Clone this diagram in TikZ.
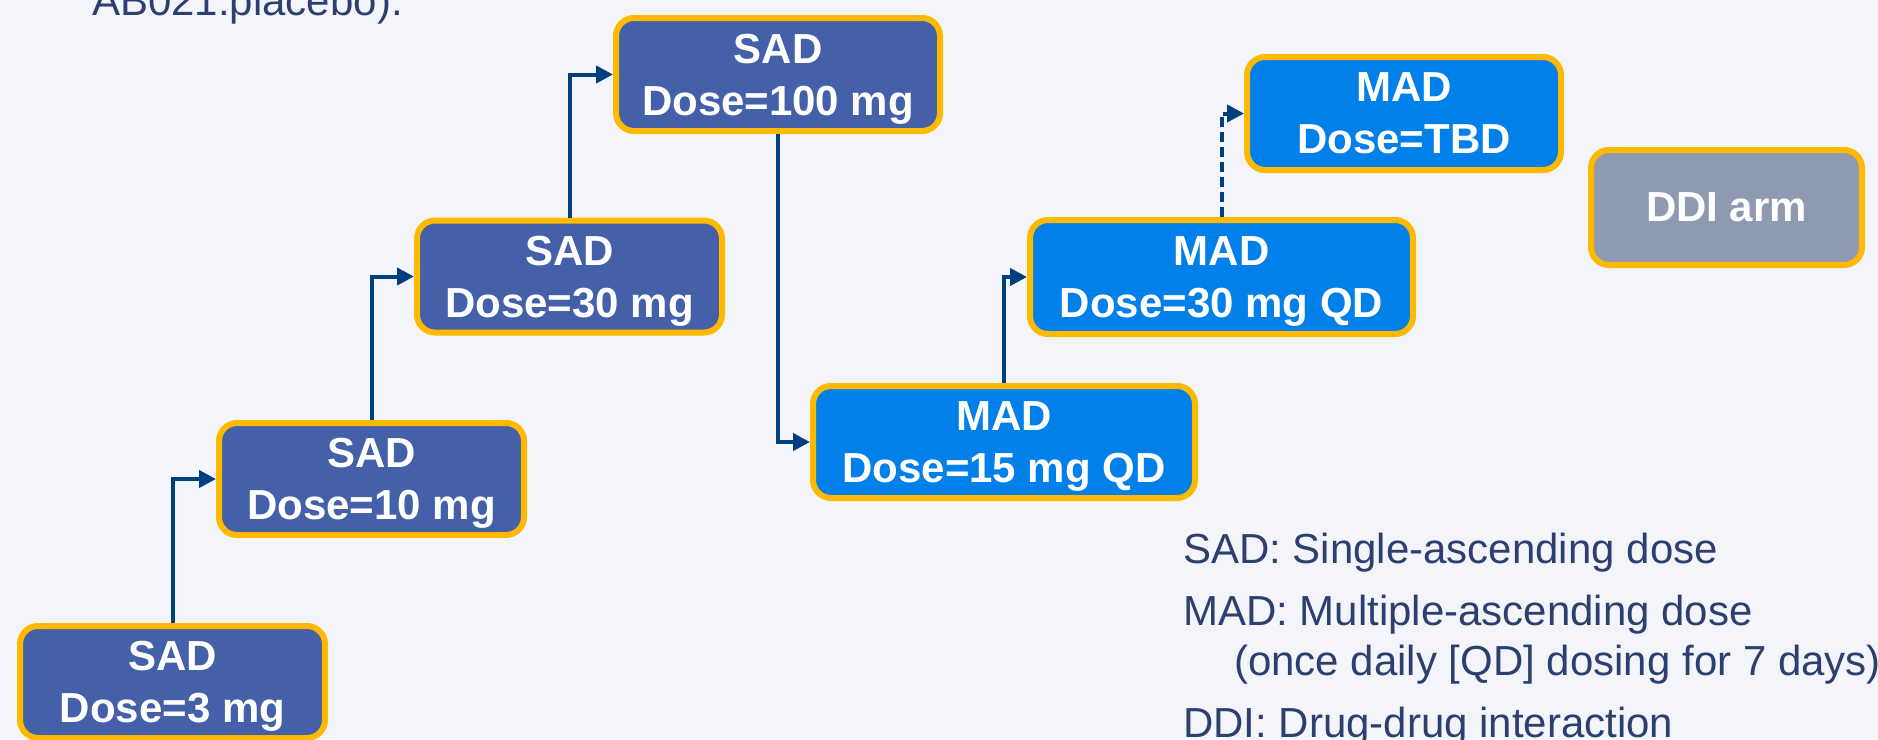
\documentclass[tikz,border=0pt]{standalone}
\usepackage{fontspec}
\setmainfont{Liberation Sans}
\usetikzlibrary{arrows.meta}
\definecolor{bg}{HTML}{F3F5FA}
\definecolor{sadblue}{HTML}{4360A8}
\definecolor{madblue}{HTML}{0080E8}
\definecolor{ddigray}{HTML}{8E9AB0}
\definecolor{gold}{HTML}{FFB900}
\definecolor{arrowblue}{HTML}{003F7F}
\definecolor{legendblue}{HTML}{2D3F6E}
\begin{document}
\begin{tikzpicture}[x=1pt,y=-1pt,
  box/.style={draw=gold, line width=6pt, rounded corners=18pt, text=white,
    font=\fontsize{42}{52}\selectfont\bfseries, align=center, inner sep=0pt,
    minimum height=112pt},
  sadbox/.style={box, fill=sadblue},
  madbox/.style={box, fill=madblue},
  ddibox/.style={box, fill=ddigray},
  conn/.style={draw=arrowblue, line width=4pt, -{Triangle[length=17pt,width=17pt]}},
  dashconn/.style={conn, dash pattern=on 10pt off 5pt},
  legend/.style={anchor=base west, text=legendblue, font=\fontsize{42}{50}\selectfont, inner sep=0pt}]
\useasboundingbox (0,0) rectangle (1878,739);
\fill[bg] (0,0) rectangle (1878,739);

\node[legend] (top) at (92,15) {AB021:placebo).};

\node[sadbox, minimum width=305pt] (s3) at (172.5,682) {SAD\\\smash{Dose=3 mg}};
\node[sadbox, minimum width=305pt] (s10) at (371.5,479) {SAD\\\smash{Dose=10 mg}};
\node[sadbox, minimum width=305pt] (s30) at (569.5,276.5) {SAD\\\smash{Dose=30 mg}};
\node[sadbox, minimum width=324pt, minimum height=113pt] (s100) at (778,74.5) {SAD\\\smash{Dose=100 mg}};
\node[madbox, minimum width=382pt] (m15) at (1004,442) {MAD\\\smash{Dose=15 mg QD}};
\node[madbox, minimum width=383pt, minimum height=114pt] (m30) at (1221.5,277) {MAD\\\smash{Dose=30 mg QD}};
\node[madbox, minimum width=314pt, minimum height=113pt] (mtbd) at (1404,113.5) {MAD\\\smash{Dose=TBD}};
\node[ddibox, minimum width=271pt, minimum height=115pt] (ddi) at (1726.5,207.5) {DDI arm};

\draw[conn] (s3.north) |- (s10.west);
\draw[conn] (s10.north) |- (s30.west);
\draw[conn] (s30.north) |- (s100.west);
\draw[conn] (s100.south) |- (m15.west);
\draw[conn] (m15.north) |- (m30.west);
\draw[dashconn] (m30.north) |- (mtbd.west);

\node[legend] (l1) at (1183,563) {SAD: Single-ascending dose};
\node[legend] (l2) at (1183,625) {MAD: Multiple-ascending dose};
\node[legend] (l3) at (1234,675) {(once daily [QD] dosing for 7 days)};
\node[legend] (l4) at (1183,737) {DDI: Drug-drug interaction};
\end{tikzpicture}
\end{document}
